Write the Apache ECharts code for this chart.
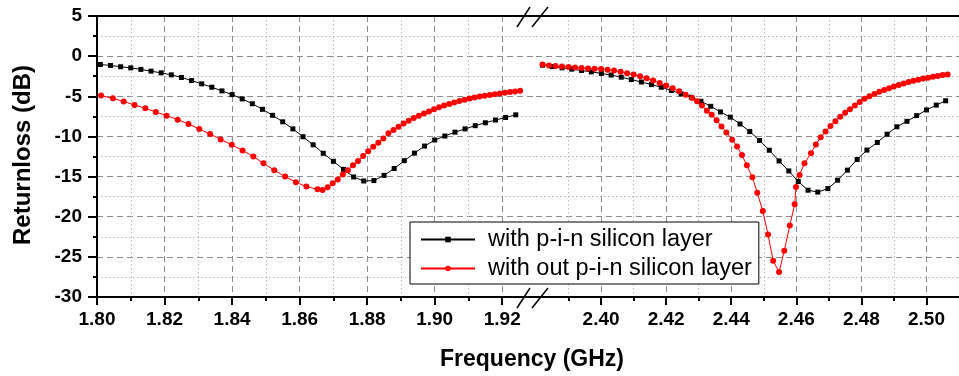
<!DOCTYPE html>
<html><head><meta charset="utf-8">
<script src="https://cdn.jsdelivr.net/npm/echarts@6/dist/echarts.min.js"></script>
<style>html,body{margin:0;padding:0;background:#fff}#c{width:959px;height:376px}</style>
</head><body><div id="c"></div>
<script>
// ---------- data ----------
const seriesNames = ['with p-i-n silicon layer', 'with out p-i-n silicon layer'];

const blackLeftX = [1.801,1.804,1.807,1.810,1.813,1.816,1.819,1.822,1.825,1.828,1.831,1.834,1.837,1.840,1.843,1.846,1.849,1.852,1.855,1.858,1.861,1.864,1.867,1.870,1.873,1.876,1.879,1.882,1.885,1.888,1.891,1.894,1.897,1.900,1.903,1.906,1.909,1.912,1.915,1.918,1.921,1.924];
const blackLeftY = [-1.04,-1.16,-1.32,-1.46,-1.65,-1.87,-2.08,-2.33,-2.66,-3.04,-3.45,-3.87,-4.33,-4.79,-5.33,-5.93,-6.62,-7.37,-8.18,-9.06,-10.04,-11.04,-12.1,-13.1,-14.1,-15.05,-15.55,-15.5,-14.85,-14.0,-13.02,-12.08,-11.2,-10.45,-9.95,-9.47,-9.06,-8.66,-8.3,-7.96,-7.64,-7.31];

const redLeftX = [1.8012,1.8047,1.8079,1.8111,1.8143,1.8174,1.8206,1.8239,1.8271,1.8303,1.8335,1.8366,1.8399,1.8431,1.8463,1.8493,1.8525,1.8557,1.8589,1.8620,1.8653,
  1.8668,1.8683,1.8698,1.8713,1.8728,1.8743,1.8758,1.8773,1.8788,1.8803,1.8818,1.8833,1.8848,1.8863,1.8878,1.8893,1.8908,1.8923,1.8938,1.8953,1.8968,1.8983,1.8998,1.9013,1.9028,1.9043,1.9058,1.9073,1.9088,1.9103,1.9118,1.9133,1.9148,1.9163,1.9178,1.9193,1.9208,1.9223,1.9238,1.9253];
const redLeftY = [-4.91,-5.25,-5.66,-6.08,-6.5,-6.95,-7.41,-7.91,-8.45,-9.08,-9.7,-10.37,-11.05,-11.75,-12.5,-13.35,-14.2,-15.0,-15.7,-16.25,-16.58,
  -16.66,-16.33,-15.83,-15.35,-14.75,-14.2,-13.6,-13.05,-12.45,-11.85,-11.3,-10.8,-10.25,-9.6,-9.2,-8.8,-8.4,-8.05,-7.72,-7.42,-7.14,-6.88,-6.63,-6.38,-6.16,-5.96,-5.77,-5.6,-5.44,-5.29,-5.16,-5.04,-4.93,-4.83,-4.74,-4.65,-4.56,-4.48,-4.4,-4.32];

const blackRightX = [2.382,2.385,2.388,2.391,2.394,2.397,2.4001,2.4031,2.4062,2.4093,2.4124,2.4155,2.4185,2.4216,2.4246,2.4277,2.4307,2.4337,2.4367,2.4397,2.4427,2.4457,2.4487,2.4517,2.4547,2.4577,2.4606,2.4636,2.4666,2.4697,2.4727,2.4757,2.4787,2.4817,2.4849,2.4879,2.4909,2.4940,2.4970,2.5000,2.5030,2.5059];
const blackRightY = [-1.12,-1.3,-1.45,-1.62,-1.79,-1.96,-2.15,-2.35,-2.62,-2.92,-3.22,-3.54,-3.88,-4.28,-4.7,-5.12,-5.62,-6.25,-6.95,-7.6,-8.45,-9.4,-10.5,-11.72,-13.05,-14.3,-15.62,-16.7,-16.93,-16.5,-15.45,-14.2,-12.87,-11.7,-10.75,-9.72,-8.8,-8.12,-7.41,-6.7,-6.1,-5.56];

const redRightX = [2.382,2.384,2.386,2.388,2.390,2.392,2.394,2.396,2.398,2.400,2.402,2.404,2.406,2.408,2.410,2.412,2.414,2.416,2.418,2.420,2.422,2.424,2.426,2.428,
  2.4295,2.4310,2.4325,2.4340,2.4355,2.4370,2.4385,2.4403,2.4418,2.4433,2.4448,2.4465,2.4480,2.4497,2.4513,2.4529,2.4547,2.4563,2.4580,2.4595,2.4599,2.4610,2.4625,2.4645,
  2.4660,2.4675,2.4690,2.4705,2.4720,2.4735,2.4750,2.4765,2.4780,2.4795,2.4810,2.4825,2.4840,2.4855,2.4870,2.4885,2.4900,2.4915,2.4930,2.4945,2.4960,2.4975,2.4990,2.5005,2.5020,2.5035,2.5050,2.5065];
const redRightY = [-1.05,-1.15,-1.23,-1.3,-1.36,-1.42,-1.48,-1.53,-1.57,-1.6,-1.68,-1.8,-1.95,-2.12,-2.3,-2.52,-2.76,-3.03,-3.33,-3.65,-4.0,-4.38,-4.8,-5.2,
  -5.62,-6.16,-6.79,-7.29,-8.0,-8.75,-9.5,-10.4,-11.25,-12.3,-13.6,-15.1,-17.0,-19.3,-22.2,-25.5,-26.9,-24.25,-21.1,-18.45,-16.3,-14.8,-13.35,-12.1,
  -11.0,-10.1,-9.4,-8.7,-8.1,-7.55,-7.05,-6.6,-6.15,-5.7,-5.3,-4.98,-4.7,-4.45,-4.22,-4.0,-3.78,-3.58,-3.4,-3.23,-3.08,-2.93,-2.8,-2.68,-2.57,-2.46,-2.36,-2.28];

const majorTicksLeft = [1.80,1.82,1.84,1.86,1.88,1.90,1.92];
const minorTicksLeft = [1.81,1.83,1.85,1.87,1.89,1.91];
const majorTicksRight = [2.40,2.42,2.44,2.46,2.48,2.50];
const minorTicksRight = [2.39,2.41,2.43,2.45,2.47,2.49];
const xRangeLeft = [1.80, 1.93];
const xRangeRight = [2.38, 2.51];
const yRange = [-30, 5];
const yStep = 5;
const xTitle = 'Frequency (GHz)';
const yTitle = 'Returnloss (dB)';

// ---------- chart ----------
const FONT = '"Liberation Sans", Arial, sans-serif';
const zip = (xs, ys) => xs.map((x, i) => [x, ys[i]]);
const dashed = { type: [6, 4], color: '#8c8c8c', width: 1 };
const dotted = { type: [1.5, 2.5], color: '#b8b8b8', width: 1 };
const axisBlack = { color: '#000', width: 2 };

function xAxesFor(grid, range, major, minor) {
  return [
    { type: 'value', gridIndex: grid, position: 'bottom', min: range[0], max: range[1],
      axisLine: { show: true, onZero: false, lineStyle: axisBlack },
      axisTick: { show: true, customValues: major, length: 8, lineStyle: axisBlack },
      axisLabel: { show: true, customValues: major, formatter: v => v.toFixed(2), fontSize: 19, fontWeight: 'bold', color: '#000', fontFamily: FONT, margin: 13 },
      splitLine: { show: true, lineStyle: dashed } },
    { type: 'value', gridIndex: grid, position: 'bottom', min: range[0], max: range[1],
      axisLine: { show: false, onZero: false },
      axisTick: { show: true, customValues: minor, length: 4, lineStyle: axisBlack },
      axisLabel: { show: false },
      splitLine: { show: true, lineStyle: dotted } },
    { type: 'value', gridIndex: grid, position: 'top', min: range[0], max: range[1],
      axisLine: { show: true, onZero: false, lineStyle: axisBlack },
      axisTick: { show: false }, axisLabel: { show: false }, splitLine: { show: false } }
  ];
}

function yAxisFor(grid, visible) {
  return { type: 'value', gridIndex: grid, position: 'left', min: yRange[0], max: yRange[1], interval: yStep,
    axisLine: { show: visible, onZero: false, lineStyle: axisBlack },
    axisTick: { show: visible, length: 9, lineStyle: axisBlack },
    minorTick: { show: visible, splitNumber: 2, length: 4, lineStyle: axisBlack },
    axisLabel: { show: visible, fontSize: 19, fontWeight: 'bold', color: '#000', fontFamily: FONT, margin: 15 },
    splitLine: { show: true, lineStyle: dashed },
    minorSplitLine: { show: true, lineStyle: dotted } };
}

function lineSeries(name, xi, yi, data, color, symbol, size) {
  return { name, type: 'line', xAxisIndex: xi, yAxisIndex: yi, data,
    symbol, symbolSize: size, showSymbol: true,
    itemStyle: { color }, lineStyle: { color, width: 1 },
    emphasis: { disabled: true }, animation: false, z: 3 };
}

const chart = echarts.init(document.getElementById('c'), null, { renderer: 'canvas' });
chart.setOption({
  animation: false,
  backgroundColor: '#fff',
  textStyle: { fontFamily: FONT },
  grid: [
    { left: 97, top: 16, width: 439, height: 281 },
    { left: 536, top: 16, width: 433, height: 281 }
  ],
  xAxis: [].concat(
    xAxesFor(0, xRangeLeft, majorTicksLeft, minorTicksLeft),
    xAxesFor(1, xRangeRight, majorTicksRight, minorTicksRight)
  ),
  yAxis: [yAxisFor(0, true), yAxisFor(1, false)],
  legend: {
    data: seriesNames, orient: 'vertical', left: 410, top: 222,
    itemWidth: 54, itemHeight: 7, itemGap: 4,
    padding: [5, 7, 3, 10],
    backgroundColor: '#fff', borderColor: '#000', borderWidth: 1,
    selectedMode: false,
    textStyle: { fontSize: 23.5, color: '#000', fontFamily: FONT, padding: [0, 0, 0, 8], lineHeight: 25 }
  },
  series: [
    lineSeries(seriesNames[0], 0, 0, zip(blackLeftX, blackLeftY), '#000', 'rect', 5),
    lineSeries(seriesNames[0], 3, 1, zip(blackRightX, blackRightY), '#000', 'rect', 5),
    lineSeries(seriesNames[1], 0, 0, zip(redLeftX, redLeftY), '#ff0000', 'circle', 6),
    lineSeries(seriesNames[1], 3, 1, zip(redRightX, redRightY), '#ff0000', 'circle', 6)
  ],
  graphic: [
    { type: 'text', x: 532, y: 360, style: { text: xTitle, font: 'bold 23px ' + FONT, fill: '#000', textAlign: 'center', textVerticalAlign: 'middle' } },
    { type: 'text', x: 23, y: 155, rotation: Math.PI / 2, style: { text: yTitle, font: 'bold 24px ' + FONT, fill: '#000', textAlign: 'center', textVerticalAlign: 'middle' } },
    { type: 'line', shape: { x1: 517, y1: 27, x2: 530, y2: 7 }, style: { stroke: '#000', lineWidth: 1.5 } },
    { type: 'line', shape: { x1: 532, y1: 27, x2: 548, y2: 7 }, style: { stroke: '#000', lineWidth: 1.5 } },
    { type: 'line', shape: { x1: 517, y1: 308, x2: 530, y2: 288 }, style: { stroke: '#000', lineWidth: 1.5 } },
    { type: 'line', shape: { x1: 532, y1: 308, x2: 548, y2: 288 }, style: { stroke: '#000', lineWidth: 1.5 } }
  ]
});
</script></body></html>
